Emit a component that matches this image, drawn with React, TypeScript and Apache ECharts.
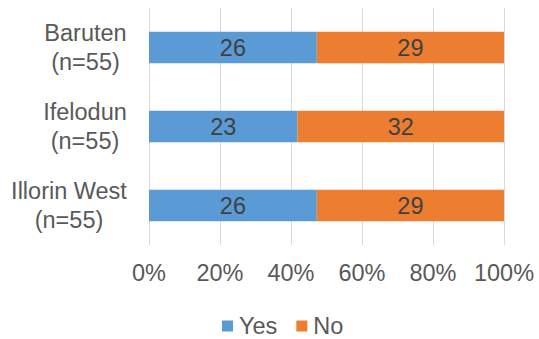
import React, { useEffect, useRef } from "react";
import * as echarts from "echarts";

const categories = ["Baruten\n(n=55)", "Ifelodun\n(n=55)", "Illorin West\n(n=55)"];
const yesValues = [26, 23, 26];
const noValues = [29, 32, 29];
const xTicks = [0, 20, 40, 60, 80, 100];

const FONT = "'Liberation Sans', Arial, sans-serif";
const FS = 23.5;

function measure(text: string): number {
  const c = document.createElement("canvas").getContext("2d");
  if (!c) return text.length * FS * 0.55;
  c.font = `${FS}px ${FONT}`;
  return c.measureText(text).width;
}

export default function App() {
  const ref = useRef<HTMLDivElement>(null);
  useEffect(() => {
    if (!ref.current) return;
    const chart = echarts.init(ref.current, null, { renderer: "svg" });
    const totals = yesValues.map((v, i) => v + noValues[i]);
    const mk = (vals: number[]) =>
      vals.map((v, i) => ({ value: (v / totals[i]) * 100, raw: v }));
    const rich: Record<string, any> = {};
    categories.forEach((c, i) => {
      const w = Math.ceil(Math.max(...c.split("\n").map(measure)));
      rich["c" + i] = {
        width: w,
        align: "center",
        color: "#595959",
        fontSize: FS,
        fontFamily: FONT,
        lineHeight: 29,
      };
    });
    const barLabel = {
      show: true,
      position: "inside",
      color: "#404040",
      fontSize: FS,
      fontFamily: FONT,
      formatter: (p: any) => String(p.data.raw),
    };
    chart.setOption({
      animation: false,
      textStyle: { fontFamily: FONT },
      grid: { left: 149, right: 35, top: 8, bottom: 94, containLabel: false },
      xAxis: {
        type: "value",
        min: 0,
        max: 100,
        interval: 20,
        axisLabel: {
          formatter: (v: number) => (xTicks.includes(v) ? v + "%" : ""),
          color: "#595959",
          fontSize: FS,
          fontFamily: FONT,
          margin: 16,
        },
        splitLine: { show: true, lineStyle: { color: "#D9D9D9", width: 1 } },
        axisLine: { show: false },
        axisTick: { show: false },
      },
      yAxis: {
        type: "category",
        inverse: true,
        data: categories,
        axisLabel: {
          color: "#595959",
          fontSize: FS,
          fontFamily: FONT,
          lineHeight: 29,
          margin: 22,
          align: "right",
          formatter: (v: string, i: number) =>
            v
              .split("\n")
              .map((line) => `{c${i}|${line}}`)
              .join("\n"),
          rich,
        },
        axisLine: { show: false },
        axisTick: { show: false },
      },
      legend: {
        data: ["Yes", "No"],
        left: 222,
        top: 314,
        padding: 0,
        itemWidth: 11,
        itemHeight: 11,
        itemGap: 19,
        icon: "rect",
        textStyle: {
          color: "#595959",
          fontSize: FS,
          fontFamily: FONT,
          lineHeight: 24,
          padding: [0, 0, 0, 1],
        },
      },
      series: [
        {
          name: "Yes",
          type: "bar",
          stack: "total",
          barCategoryGap: "60%",
          data: mk(yesValues),
          itemStyle: { color: "#5B9BD5" },
          label: barLabel,
        },
        {
          name: "No",
          type: "bar",
          stack: "total",
          barCategoryGap: "60%",
          data: mk(noValues),
          itemStyle: { color: "#ED7D31" },
          label: barLabel,
        },
      ],
    });
    return () => chart.dispose();
  }, []);
  return (
    <div
      ref={ref}
      style={{ position: "absolute", left: 0, top: 0, width: 539, height: 339 }}
    />
  );
}
